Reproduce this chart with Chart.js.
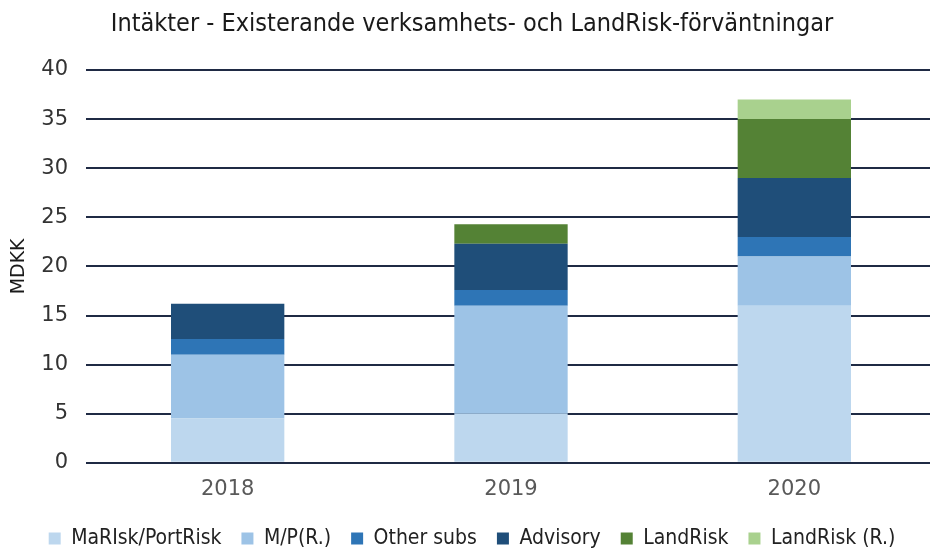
<!DOCTYPE html>
<html>
<head>
<meta charset="utf-8">
<script src="https://cdn.jsdelivr.net/npm/chart.js@4"></script>
<style>
  html, body { margin: 0; padding: 0; overflow: hidden; background: #fff; }
  #wrap { position: absolute; left: 0; top: 0; width: 944px; height: 549px; }
</style>
</head>
<body>
<div id="wrap"><canvas id="barChart"></canvas></div>
<script>
const years = ['2018', '2019', '2020'];
const marisk = [4.5, 5.0, 16.0];
const mpR = [6.5, 11.0, 5.0];
const otherSubs = [1.6, 1.6, 2.0];
const advisory = [3.6, 4.7, 6.0];
const landRisk = [0, 2.0, 6.0];
const landRiskR = [0, 0, 2.0];
const yTicks = [0, 5, 10, 15, 20, 25, 30, 35, 40];

const ctx = document.getElementById('barChart').getContext('2d');
new Chart(ctx, {
  type: 'bar',
  data: {
    labels: years,
    datasets: [
      { label: 'MaRIsk/PortRisk', data: marisk, backgroundColor: '#BDD7EE' },
      { label: 'M/P(R.)', data: mpR, backgroundColor: '#9DC3E6' },
      { label: 'Other subs', data: otherSubs, backgroundColor: '#2E75B6' },
      { label: 'Advisory', data: advisory, backgroundColor: '#1F4E79' },
      { label: 'LandRisk', data: landRisk, backgroundColor: '#548235' },
      { label: 'LandRisk (R.)', data: landRiskR, backgroundColor: '#A9D18E' }
    ]
  },
  options: {
    responsive: true,
    maintainAspectRatio: false,
    animation: false,
    layout: { padding: { left: 8, right: 8, top: 4, bottom: -10 } },
    datasets: { bar: { categoryPercentage: 1, barPercentage: 0.4 } },
    plugins: {
      title: {
        display: true,
        text: 'Intäkter - Existerande verksamhets- och LandRisk-förväntningar',
        color: '#1a1a1a',
        font: { family: 'DejaVu Sans Condensed', size: 25, weight: 'normal' },
        padding: { top: 5, bottom: 31 }
      },
      legend: {
        position: 'bottom',
        labels: {
          color: '#222',
          font: { family: 'DejaVu Sans Condensed', size: 21 },
          boxWidth: 12,
          boxHeight: 12,
          padding: 20
        }
      },
      tooltip: { enabled: false }
    },
    scales: {
      x: {
        stacked: true,
        grid: { display: false },
        border: { display: false },
        ticks: { color: '#595959', font: { family: 'DejaVu Sans', size: 21 }, padding: 6 }
      },
      y: {
        stacked: true,
        min: 0,
        max: 40,
        afterBuildTicks: axis => { axis.ticks = yTicks.map(v => ({ value: v })); },
        afterFit: axis => { axis.width = 78; },
        grid: { color: '#1F2A44', lineWidth: 2, drawTicks: false },
        border: { display: false },
        ticks: { color: '#333', font: { family: 'DejaVu Sans', size: 21 }, padding: 18 },
        title: {
          display: true,
          text: 'MDKK',
          color: '#1a1a1a',
          font: { family: 'DejaVu Sans', size: 19 },
          padding: { top: 0, bottom: 0 }
        }
      }
    }
  }
});
</script>
</body>
</html>
